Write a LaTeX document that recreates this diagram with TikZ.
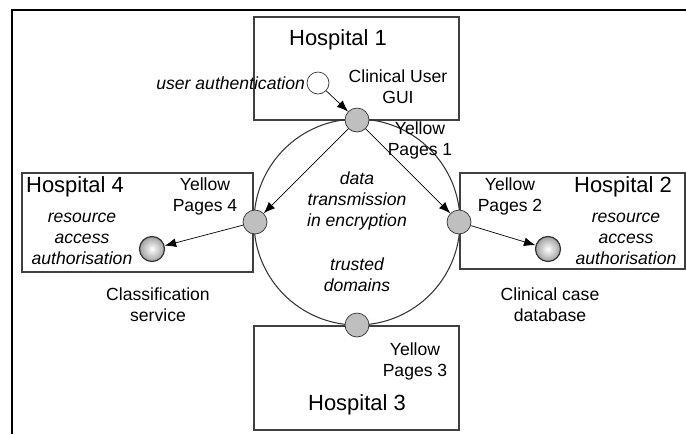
\documentclass[tikz,border=0pt]{standalone}
\usepackage{fontspec}
\setmainfont{Liberation Sans}
\usetikzlibrary{arrows.meta}
\tikzset{
  lbl/.style={align=center, inner sep=1pt, font=\fontsize{10}{12}\selectfont},
  itlbl/.style={lbl, font=\fontsize{10}{12}\selectfont\itshape},
  hosp/.style={inner sep=1pt, font=\fontsize{12.5}{14}\selectfont},
  hbox/.style={draw=black!75, line width=0.8pt},
  yp/.style={circle, draw=black!80, fill=gray!50, minimum size=0.48cm, inner sep=0pt},
  sphere/.style={circle, draw=black!80, line width=0.7pt, inner color=white, outer color=gray!75, minimum size=0.5cm, inner sep=0pt},
  user/.style={circle, draw=black!80, fill=white, minimum size=0.44cm, inner sep=0pt}
}
\begin{document}
\begin{tikzpicture}[>={Latex[length=6.5pt,width=5pt]}, x=0.02cm, y=-0.02cm]
  \useasboundingbox (0,0) rectangle (686,434);
  \draw[line width=0.9pt] (12,434) -- (12,10) -- (686,10);
  \draw[hbox] (254,17) rectangle (459,120);
  \draw[hbox] (22,173) rectangle (253,272);
  \draw[hbox] (460,173) rectangle (685,269);
  \draw[hbox] (254,326) rectangle (459,430);
  \draw[black!80, line width=0.6pt] (357,222) circle[radius=103];

  \node[yp] (yp1) at (357,120) {};
  \node[yp] (yp2) at (459,222) {};
  \node[yp] (yp3) at (357,325) {};
  \node[yp] (yp4) at (255,222) {};
  \node[user] (auth) at (318,83) {};
  \node[sphere] (cls) at (152,249) {};
  \node[sphere] (ccd) at (548,249) {};

  \draw[->] (auth) -- (yp1);
  \draw[->] (yp1) -- (yp4);
  \draw[->] (yp1) -- (yp2);
  \draw[->] (yp4) -- (cls);
  \draw[->] (yp2) -- (ccd);

  \node[hosp] (h1) at (338,40) {Hospital 1};
  \node[itlbl, anchor=east] (authlbl) at (307,83) {user authentication};
  \node[lbl] (gui) at (398,87) {Clinical User\\GUI};
  \node[lbl] (yp1lbl) at (420,140) {Yellow\\Pages 1};
  \node[itlbl] (dtx) at (357,201) {data\\transmission\\in encryption};
  \node[itlbl] (trust) at (357,275) {trusted\\domains};
  \node[hosp] (h4) at (75,187) {Hospital 4};
  \node[lbl] (yp4lbl) at (205,196) {Yellow\\Pages 4};
  \node[itlbl] (ra4) at (82,239) {resource\\access\\authorisation};
  \node[lbl] (clslbl) at (158,305) {Classification\\service};
  \node[lbl] (yp2lbl) at (510,196) {Yellow\\Pages 2};
  \node[hosp] (h2) at (623,187) {Hospital 2};
  \node[itlbl] (ra2) at (626,239) {resource\\access\\authorisation};
  \node[lbl] (ccdlbl) at (550,305) {Clinical case\\database};
  \node[lbl] (yp3lbl) at (415,361) {Yellow\\Pages 3};
  \node[hosp] (h3) at (357,405) {Hospital 3};
\end{tikzpicture}
\end{document}
